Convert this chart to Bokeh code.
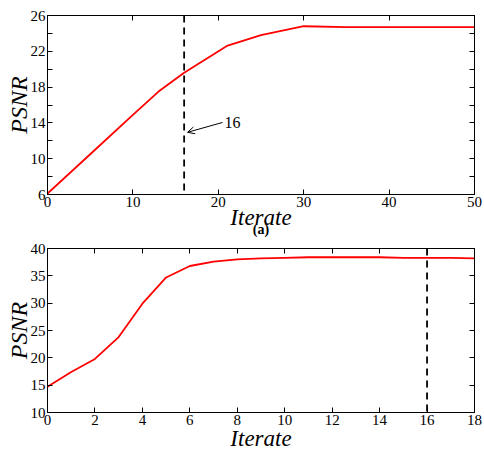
from bokeh.plotting import figure
from bokeh.layouts import column
from bokeh.models import Range1d, FixedTicker, LinearAxis, Arrow, OpenHead, Label, Span
from bokeh.embed import file_html
from bokeh.resources import INLINE

# ---- data ----
a_iter = [0, 5, 10, 13, 16, 21, 25, 30, 35, 40, 45, 50]
a_psnr = [6.1, 10.5, 14.9, 17.5, 19.6, 22.6, 23.8, 24.8, 24.7, 24.7, 24.7, 24.7]
b_iter = [0, 1, 2, 3, 4, 5, 6, 7, 8, 9, 10, 11, 12, 13, 14, 15, 16, 17, 18]
b_psnr = [14.7, 17.4, 19.8, 23.8, 29.9, 34.7, 36.8, 37.6, 38.0, 38.2, 38.3, 38.4,
          38.4, 38.4, 38.4, 38.3, 38.3, 38.3, 38.2]
selected_iter = 16
a_xticks = [0, 10, 20, 30, 40, 50]
a_yticks = [6, 10, 14, 18, 22, 26]
a_yminor = [8, 12, 16, 20, 24]
b_xticks = [0, 2, 4, 6, 8, 10, 12, 14, 16, 18]
b_yticks = [10, 15, 20, 25, 30, 35, 40]
arrow_tail = (20.5, 14.05)
arrow_head = (16.4, 12.95)
arrow_text = "16"
a_caption = "(a)"

SERIF = "Liberation Serif"


def style_axis(ax, show_labels=True, ticks=()):
    ax.axis_line_color = "black"
    ax.axis_line_width = 1
    ax.major_tick_in = 5
    ax.major_tick_out = 0
    ax.minor_tick_in = 5
    ax.minor_tick_out = 0
    ax.major_tick_line_color = "black"
    ax.minor_tick_line_color = "black"
    ax.major_label_text_font = SERIF
    ax.major_label_text_color = "black"
    ax.major_label_text_font_size = "15px"
    if show_labels:
        ax.major_label_standoff = 2
    else:
        ax.major_label_overrides = {t: "" for t in ticks}
        ax.major_label_standoff = 0
    ax.axis_label_text_font = SERIF
    ax.axis_label_text_font_style = "italic"
    ax.axis_label_text_color = "black"


def make_fig(height, xr, yr, xticks, yticks, yminor, xs, ys, top_border, bottom_border,
             xlabel_standoff):
    p = figure(width=484, height=height, output_backend="svg", toolbar_location=None,
               x_range=Range1d(*xr), y_range=Range1d(*yr),
               min_border_left=47, min_border_right=10, min_border_top=top_border,
               min_border_bottom=bottom_border)
    p.xgrid.visible = False
    p.ygrid.visible = False
    p.outline_line_color = "black"
    p.outline_line_width = 1
    p.background_fill_color = "white"
    p.border_fill_color = "white"

    p.xaxis.ticker = FixedTicker(ticks=xticks, minor_ticks=[])
    p.yaxis.ticker = FixedTicker(ticks=yticks, minor_ticks=yminor)
    p.xaxis.axis_label = "Iterate"
    p.yaxis.axis_label = "PSNR"
    for ax in p.xaxis:
        style_axis(ax)
        ax.axis_label_text_font_size = "23px"
        ax.axis_label_standoff = xlabel_standoff
    for ax in p.yaxis:
        style_axis(ax)
        ax.axis_label_text_font_size = "24px"
        ax.axis_label_standoff = -4

    top = LinearAxis(ticker=FixedTicker(ticks=xticks, minor_ticks=[]))
    style_axis(top, show_labels=False, ticks=xticks)
    p.add_layout(top, "above")
    right = LinearAxis(ticker=FixedTicker(ticks=yticks, minor_ticks=yminor))
    style_axis(right, show_labels=False, ticks=yticks)
    p.add_layout(right, "right")

    p.line(xs, ys, line_color="red", line_width=1.8)
    p.add_layout(Span(location=selected_iter, dimension="height", line_color="black",
                      line_width=1.8, line_dash="7 5"))
    return p


pa = make_fig(240, (0, 50), (6, 26), a_xticks, a_yticks, a_yminor, a_iter, a_psnr,
              15, 46, -5)
pa.add_layout(Arrow(end=OpenHead(size=7, line_color="black", line_width=1),
                    x_start=arrow_tail[0], y_start=arrow_tail[1],
                    x_end=arrow_head[0], y_end=arrow_head[1],
                    line_color="black", line_width=1))
pa.add_layout(Label(x=arrow_tail[0], y=arrow_tail[1], text=arrow_text, text_font=SERIF,
                    text_font_size="16px", text_color="black", text_baseline="middle",
                    x_offset=2))

# caption "(a)" drawn as the label of a second, tick-less axis stacked below
cap = LinearAxis(ticker=FixedTicker(ticks=[], minor_ticks=[]))
cap.axis_line_color = None
cap.major_tick_line_color = None
cap.minor_tick_line_color = None
cap.major_tick_in = 0
cap.major_tick_out = 0
cap.minor_tick_in = 0
cap.minor_tick_out = 0
cap.major_label_standoff = 0
cap.major_label_text_font_size = "15px"
cap.axis_label = a_caption
cap.axis_label_text_font = SERIF
cap.axis_label_text_font_style = "bold"
cap.axis_label_text_font_size = "14px"
cap.axis_label_text_color = "black"
cap.axis_label_standoff = -11
pa.add_layout(cap, "below")

pb = make_fig(217, (0, 18), (10, 40), b_xticks, b_yticks, [], b_iter, b_psnr, 8, 45, -2)

layout = column(pa, pb, spacing=0)

open("out.html", "w").write(file_html(layout, INLINE))
